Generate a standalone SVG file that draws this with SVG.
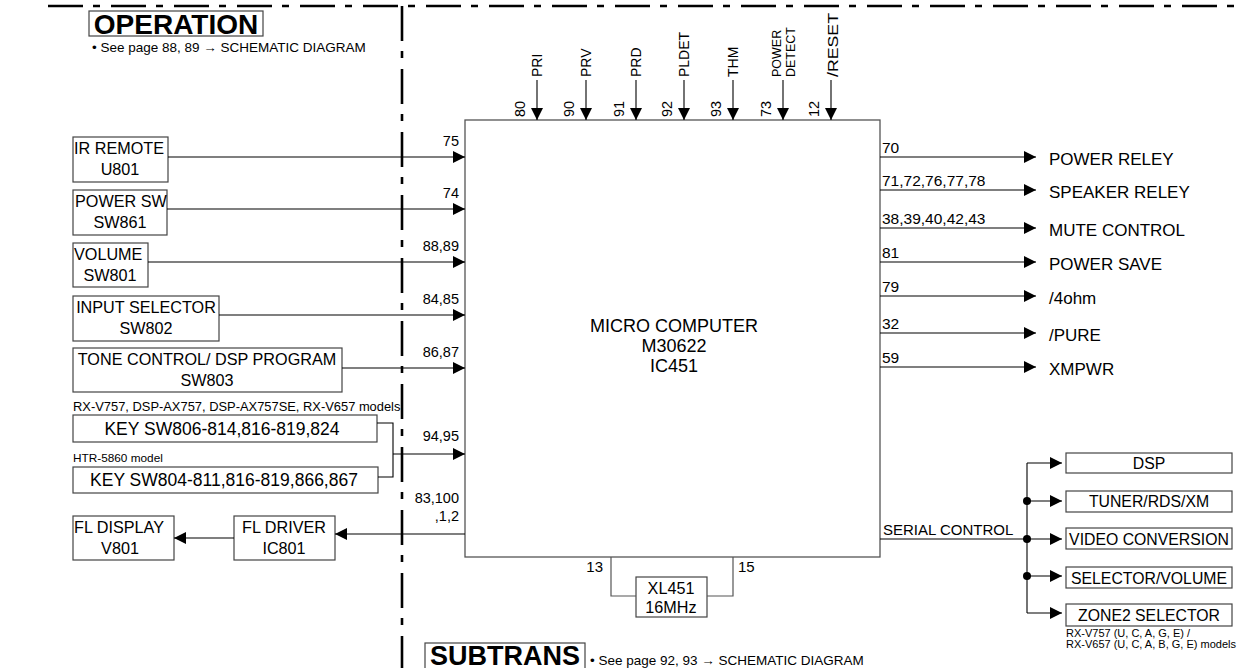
<svg xmlns="http://www.w3.org/2000/svg" width="1244" height="668" viewBox="0 0 1244 668">
<style>
text{font-family:"Liberation Sans",Arial,sans-serif;fill:#000}
.box{fill:#fff;stroke:#444;stroke-width:1.2}
.ln{fill:none;stroke:#000;stroke-width:1.1}
.gl{fill:none;stroke:#555;stroke-width:1.2}
.dd{fill:none;stroke:#000;stroke-width:2.6;stroke-dasharray:35 10 7 11}
.tb{font-size:16.2px}
.tk{font-size:17.5px}
.tc{font-size:18px}
.to{font-size:17px}
.ts{font-size:15.8px}
.tp{font-size:14.5px}
.tq{font-size:15.5px}
.tt{font-size:15px}
.tv{font-size:14px}
.tw{font-size:12.5px}
.tm{font-size:11px}
.tg{font-size:13.5px}
.c{text-anchor:middle}
.r{text-anchor:end}
</style>
<defs>
<marker id="ah" viewBox="0 0 12 12" refX="12" refY="6" markerWidth="12" markerHeight="12" markerUnits="userSpaceOnUse" orient="auto">
<path d="M0,0 L12,6 L0,12 z" fill="#000"/>
</marker>
</defs>
<rect width="1244" height="668" fill="#fff"/>

<g id="borders">
<path class="dd" d="M48,6 H1244"/>
<path class="dd" d="M402,6 V668"/>
</g>

<g id="title-operation">
<rect x="89" y="11" width="174" height="25" fill="#fff" stroke="#444" stroke-width="1.2"/>
<text class="c" x="176" y="34" style="font-size:28px;font-weight:bold">OPERATION</text>
<text class="tg" x="92" y="52">• See page 88, 89 → SCHEMATIC DIAGRAM</text>
</g>

<g id="title-subtrans">
<rect x="425" y="643" width="160" height="30" fill="#fff" stroke="#444" stroke-width="1.2"/>
<text class="c" x="505" y="665" style="font-size:27px;font-weight:bold">SUBTRANS</text>
<text class="tg" x="590" y="665">• See page 92, 93 → SCHEMATIC DIAGRAM</text>
</g>

<g id="ic451">
<rect x="465" y="120" width="415" height="437" fill="#fff" stroke="#555" stroke-width="1.3"/>
<text class="tc c" x="674" y="332">MICRO COMPUTER</text>
<text class="tc c" x="674" y="352">M30622</text>
<text class="tc c" x="674" y="372">IC451</text>
</g>

<g id="ir-remote">
<rect class="box" x="73" y="137" width="95" height="45"/>
<text class="tb" x="74" y="154">IR REMOTE</text>
<text class="tb c" x="120" y="175">U801</text>
</g>
<g id="power-sw">
<rect class="box" x="73" y="190" width="94" height="45"/>
<text class="tb" x="75" y="207">POWER SW</text>
<text class="tb c" x="120" y="228">SW861</text>
</g>
<g id="volume">
<rect class="box" x="73" y="243" width="75" height="44"/>
<text class="tb" x="74" y="260">VOLUME</text>
<text class="tb c" x="110" y="281">SW801</text>
</g>
<g id="input-selector">
<rect class="box" x="73" y="296" width="146" height="45"/>
<text class="tb c" x="146" y="313">INPUT SELECTOR</text>
<text class="tb c" x="146" y="334">SW802</text>
</g>
<g id="tone-control">
<rect class="box" x="73" y="348" width="269" height="44"/>
<text class="tb c" x="207" y="365">TONE CONTROL/ DSP PROGRAM</text>
<text class="tb c" x="207" y="386">SW803</text>
</g>
<text x="73" y="411" style="font-size:12.9px">RX-V757, DSP-AX757, DSP-AX757SE, RX-V657 models</text>
<g id="key1">
<rect class="box" x="73" y="415" width="304" height="27"/>
<text class="tk c" x="222" y="435">KEY SW806-814,816-819,824</text>
</g>
<text x="73" y="462" style="font-size:11.8px">HTR-5860 model</text>
<g id="key2">
<rect class="box" x="73" y="467" width="305" height="26"/>
<text class="tk c" x="224" y="486">KEY SW804-811,816-819,866,867</text>
</g>
<g id="fl-display">
<rect class="box" x="73" y="516" width="101" height="44"/>
<text class="tb" x="74" y="533">FL DISPLAY</text>
<text class="tb c" x="120" y="554">V801</text>
</g>
<g id="fl-driver">
<rect class="box" x="234" y="516" width="101" height="44"/>
<text class="tb c" x="284" y="533">FL DRIVER</text>
<text class="tb c" x="284" y="554">IC801</text>
</g>
<g id="xl451">
<rect class="box" x="636" y="577" width="71" height="40"/>
<text class="tb c" x="671" y="594">XL451</text>
<text class="tb c" x="671" y="613">16MHz</text>
</g>

<g id="dsp"><rect class="box" x="1066" y="453" width="166" height="20"/><text class="ts c" x="1149" y="469">DSP</text></g>
<g id="tuner"><rect class="box" x="1066" y="491" width="166" height="21"/><text class="ts c" x="1149" y="507">TUNER/RDS/XM</text></g>
<g id="video"><rect class="box" x="1066" y="528" width="166" height="21"/><text class="ts c" x="1149" y="545">VIDEO CONVERSION</text></g>
<g id="selector"><rect class="box" x="1066" y="567" width="166" height="21"/><text class="ts c" x="1149" y="584">SELECTOR/VOLUME</text></g>
<g id="zone2"><rect class="box" x="1066" y="604" width="166" height="22"/><text class="ts c" x="1149" y="621">ZONE2 SELECTOR</text></g>
<text class="tm" x="1066" y="637">RX-V757 (U, C, A, G, E) /</text>
<text class="tm" x="1066" y="648">RX-V657 (U, C, A, B, G, E) models</text>

<g id="connectors">
<path class="ln" d="M168,157 H465" marker-end="url(#ah)"/>
<path class="ln" d="M167,209 H465" marker-end="url(#ah)"/>
<path class="ln" d="M148,262 H465" marker-end="url(#ah)"/>
<path class="ln" d="M219,315 H465" marker-end="url(#ah)"/>
<path class="ln" d="M342,368 H465" marker-end="url(#ah)"/>
<path class="ln" d="M377,423 H393 V477 H378"/>
<path class="ln" d="M393,454 H465" marker-end="url(#ah)"/>
<path class="ln" d="M465,534 H335" marker-end="url(#ah)"/>
<path class="ln" d="M234,538 H174" marker-end="url(#ah)"/>
<text class="tp r" x="459" y="146">75</text>
<text class="tp r" x="459" y="198">74</text>
<text class="tp r" x="459" y="251">88,89</text>
<text class="tp r" x="459" y="304">84,85</text>
<text class="tp r" x="459" y="357">86,87</text>
<text class="tp r" x="459" y="441">94,95</text>
<text class="tp r" x="459" y="503">83,100</text>
<text class="tp r" x="459" y="521">,1,2</text>
<path class="ln" d="M537,80 V120" marker-end="url(#ah)"/>
<path class="ln" d="M586,80 V120" marker-end="url(#ah)"/>
<path class="ln" d="M636,80 V120" marker-end="url(#ah)"/>
<path class="ln" d="M684,80 V120" marker-end="url(#ah)"/>
<path class="ln" d="M733,80 V120" marker-end="url(#ah)"/>
<path class="ln" d="M783,80 V120" marker-end="url(#ah)"/>
<path class="ln" d="M831,80 V120" marker-end="url(#ah)"/>
<text class="tv" transform="translate(542,77) rotate(-90)">PRI</text>
<text class="tv" transform="translate(591,77) rotate(-90)">PRV</text>
<text class="tv" transform="translate(641,77) rotate(-90)">PRD</text>
<text class="tv" transform="translate(689,77) rotate(-90)">PLDET</text>
<text class="tv" transform="translate(738,77) rotate(-90)">THM</text>
<text class="tw" transform="translate(781,77) rotate(-90)">POWER</text>
<text class="tw" transform="translate(795,77) rotate(-90)">DETECT</text>
<text class="tv" transform="translate(838,77) rotate(-90)" textLength="64" lengthAdjust="spacingAndGlyphs">/RESET</text>
<text class="tp" transform="translate(525,117) rotate(-90)">80</text>
<text class="tp" transform="translate(574,117) rotate(-90)">90</text>
<text class="tp" transform="translate(624,117) rotate(-90)">91</text>
<text class="tp" transform="translate(672,117) rotate(-90)">92</text>
<text class="tp" transform="translate(721,117) rotate(-90)">93</text>
<text class="tp" transform="translate(771,117) rotate(-90)">73</text>
<text class="tp" transform="translate(819,117) rotate(-90)">12</text>
<path class="ln" d="M880,157 H1036" marker-end="url(#ah)"/>
<path class="ln" d="M880,190 H1036" marker-end="url(#ah)"/>
<path class="ln" d="M880,228 H1036" marker-end="url(#ah)"/>
<path class="ln" d="M880,262 H1036" marker-end="url(#ah)"/>
<path class="ln" d="M880,296 H1036" marker-end="url(#ah)"/>
<path class="ln" d="M880,333 H1036" marker-end="url(#ah)"/>
<path class="ln" d="M880,367 H1036" marker-end="url(#ah)"/>
<text class="tq" x="882" y="153">70</text>
<text class="tq" x="882" y="186">71,72,76,77,78</text>
<text class="tq" x="882" y="224">38,39,40,42,43</text>
<text class="tq" x="882" y="258">81</text>
<text class="tq" x="882" y="292">79</text>
<text class="tq" x="882" y="329">32</text>
<text class="tq" x="882" y="363">59</text>
<text class="to" x="1049" y="165">POWER RELEY</text>
<text class="to" x="1049" y="198">SPEAKER RELEY</text>
<text class="to" x="1049" y="236">MUTE CONTROL</text>
<text class="to" x="1049" y="270">POWER SAVE</text>
<text class="to" x="1049" y="304">/4ohm</text>
<text class="to" x="1049" y="341">/PURE</text>
<text class="to" x="1049" y="375">XMPWR</text>
<path class="ln" d="M880,539 H1027"/>
<text class="tt" x="883" y="535">SERIAL CONTROL</text>
<path class="ln" d="M1027,463 V613"/>
<path class="ln" d="M1027,463 H1062" marker-end="url(#ah)"/>
<path class="ln" d="M1027,501 H1062" marker-end="url(#ah)"/>
<path class="ln" d="M1027,539 H1062" marker-end="url(#ah)"/>
<path class="ln" d="M1027,576 H1062" marker-end="url(#ah)"/>
<path class="ln" d="M1027,613 H1062" marker-end="url(#ah)"/>
<circle cx="1027" cy="501" r="4" fill="#000"/>
<circle cx="1027" cy="539" r="4" fill="#000"/>
<circle cx="1027" cy="576" r="4" fill="#000"/>
<path class="gl" d="M611,557 V596 H636"/>
<path class="gl" d="M707,596 H733 V557"/>
<text class="tt r" x="603" y="572">13</text>
<text class="tt" x="738" y="572">15</text>
</g>
</svg>
